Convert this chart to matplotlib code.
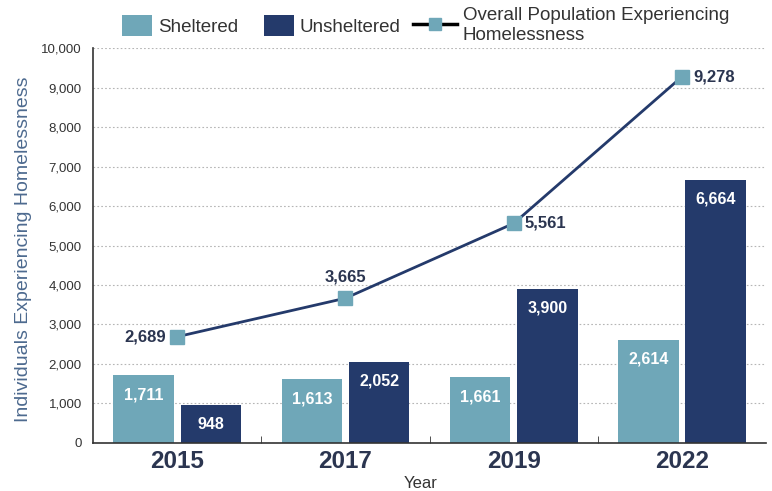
import matplotlib

matplotlib.use("Agg")

import matplotlib.pyplot as plt
import numpy as np
from matplotlib.legend_handler import HandlerPatch
from matplotlib.lines import Line2D
from matplotlib.patches import Patch, Rectangle

YEARS = ["2015", "2017", "2019", "2022"]
SHELTERED = [1711, 1613, 1661, 2614]
UNSHELTERED = [948, 2052, 3900, 6664]
OVERALL = [2689, 3665, 5561, 9278]

LIGHT = "#6fa7b8"
NAVY = "#243a6b"
TEXT = "#2b3550"

plt.rcParams["font.family"] = ["Liberation Sans", "DejaVu Sans"]


def narrow_patch(legend, orig_handle, xdescent, ydescent, width, height, fontsize):
    # legend swatch narrower than the line handle, pushed to the right
    w = width * 0.68
    return Rectangle((-xdescent + width - w, -ydescent), w, height)


fig = plt.figure(figsize=(7.72, 4.91), dpi=100)
ax = fig.add_axes([0.1205, 0.098, 0.872, 0.804])

x = np.arange(len(YEARS))
width = 0.36
gap = 0.02
b1 = ax.bar(x - width / 2 - gap, SHELTERED, width, color=LIGHT, zorder=2)
b2 = ax.bar(x + width / 2 + gap, UNSHELTERED, width, color=NAVY, zorder=2)

for bars, vals in ((b1, SHELTERED), (b2, UNSHELTERED)):
    for bar, v in zip(bars, vals):
        ax.annotate(f"{v:,}", (bar.get_x() + bar.get_width() / 2, v),
                    xytext=(0, -14), textcoords="offset points",
                    ha="center", va="center", color="white",
                    fontsize=11.5, fontweight="bold", zorder=4)

ax.plot(x, OVERALL, color=NAVY, lw=2, marker="s", markersize=10,
        markerfacecolor=LIGHT, markeredgecolor=LIGHT, zorder=3)

offsets = [(-8, 0, "right", "center"), (0, 15, "center", "center"),
           (8, 0, "left", "center"), (8, 0, "left", "center")]
for xi, v, (dx, dy, ha, va) in zip(x, OVERALL, offsets):
    ax.annotate(f"{v:,}", (xi, v), xytext=(dx, dy), textcoords="offset points",
                ha=ha, va=va, color=TEXT, fontsize=12, fontweight="bold", zorder=4)

ax.set_xlim(-0.5, len(YEARS) - 0.5)
ax.set_ylim(0, 10000)
ax.set_yticks(np.arange(0, 10001, 1000))
ax.set_yticklabels([f"{t:,}" for t in range(0, 10001, 1000)], fontsize=9.5, color="#333333")
ax.set_xticks(x)
ax.set_xticklabels(YEARS, fontsize=17.5, fontweight="bold", color=TEXT)
ax.tick_params(axis="x", which="major", length=0, pad=5)
ax.set_xticks(np.arange(0.5, len(YEARS) - 0.5, 1), minor=True)
ax.tick_params(axis="x", which="minor", length=5, direction="in", color="#333333")
ax.tick_params(axis="y", length=0, pad=8)

ax.yaxis.grid(True, linestyle=(0, (1.5, 2)), color="#b5b5b5", lw=0.8, zorder=0)
ax.set_axisbelow(True)
for side in ("top", "right"):
    ax.spines[side].set_visible(False)
for side in ("left", "bottom"):
    ax.spines[side].set_color("#333333")
    ax.spines[side].set_linewidth(1.2)

ax.set_ylabel("Individuals Experiencing Homelessness", fontsize=14, color="#4d6a8f")
ax.yaxis.set_label_coords(-0.09, 0.49)
ax.set_xlabel("Year", fontsize=12, color="#333333")
ax.xaxis.set_label_coords(0.487, -0.085)

handles = [
    Patch(facecolor=LIGHT, label="Sheltered"),
    Patch(facecolor=NAVY, label="Unsheltered"),
    Line2D([0], [0], color="black", lw=2.5, marker="s", markersize=9,
           markerfacecolor=LIGHT, markeredgecolor=LIGHT,
           label="Overall Population Experiencing\nHomelessness"),
]
fig.legend(handles=handles, loc="upper center", bbox_to_anchor=(0.542, 1.02), ncol=3,
           frameon=False, fontsize=13.5, handlelength=2.35, handleheight=1.33,
           handletextpad=0.32, columnspacing=0.64, labelspacing=0.2,
           labelcolor="#333333", handler_map={Patch: HandlerPatch(patch_func=narrow_patch)})

fig.savefig("out.png", dpi=100)
